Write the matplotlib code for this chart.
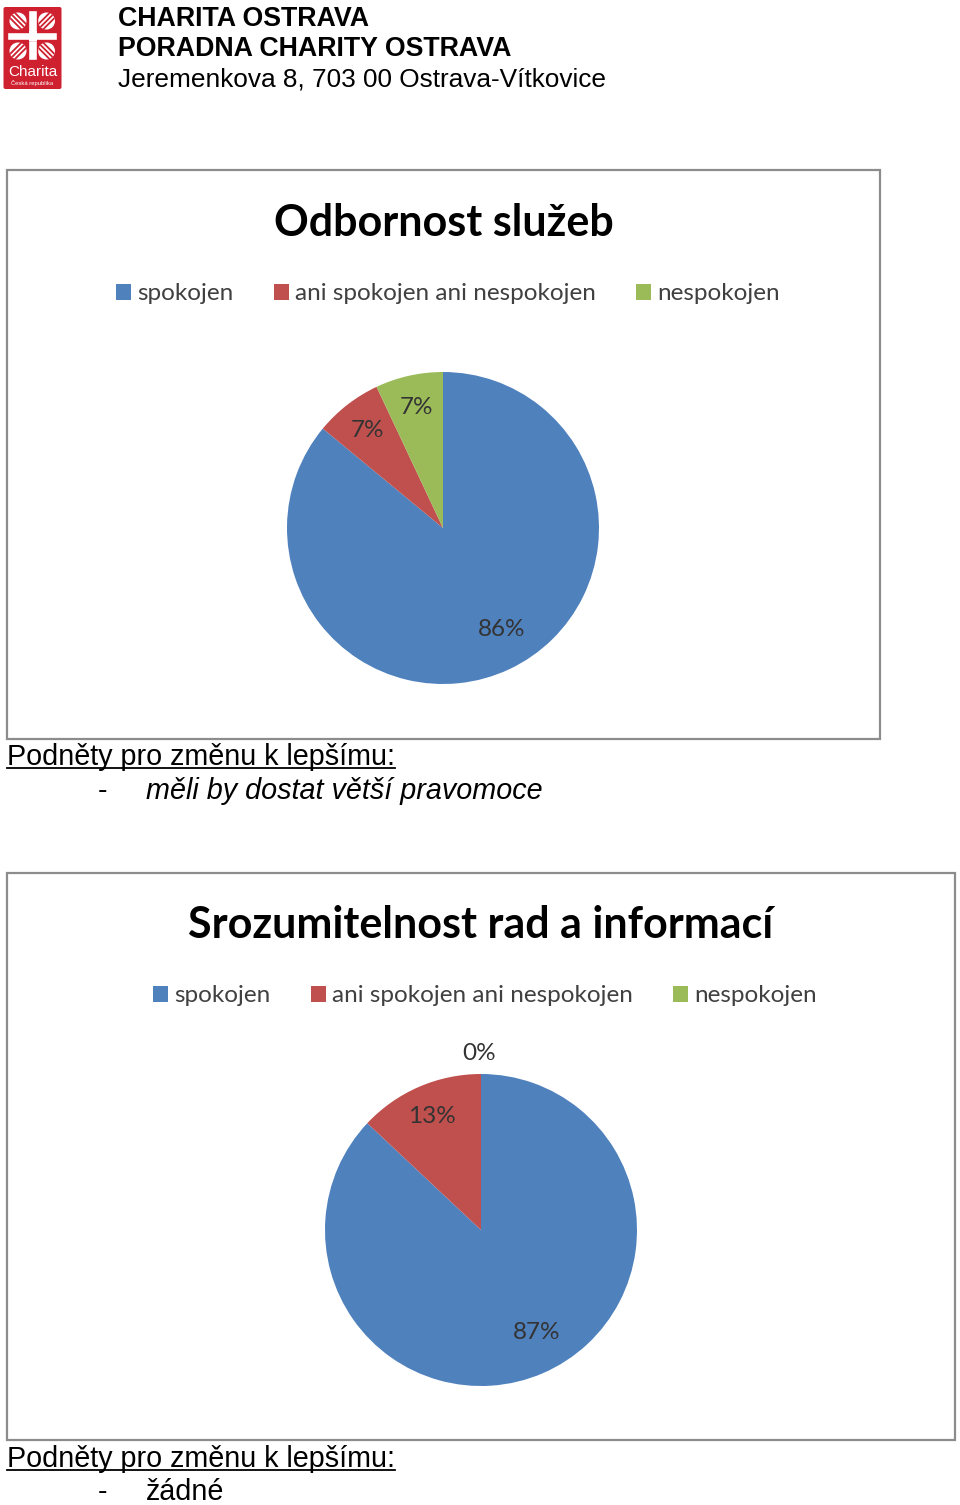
import numpy as np
import matplotlib
matplotlib.use("Agg")
import matplotlib.pyplot as plt
from matplotlib.patches import Rectangle, FancyBboxPatch, Circle
from matplotlib.lines import Line2D

W, H = 960, 1505

categories = ["spokojen", "ani spokojen ani nespokojen", "nespokojen"]
colors = ["#4F81BD", "#C0504D", "#9BBB59"]
title1 = "Odbornost služeb"
values1 = [86, 7, 7]
title2 = "Srozumitelnost rad a informací"
values2 = [87, 13, 0]
header_lines = ["CHARITA OSTRAVA", "PORADNA CHARITY OSTRAVA",
                "Jeremenkova 8, 703 00 Ostrava-Vítkovice"]
suggest_heading = "Podněty pro změnu k lepšímu:"
suggest1 = "měli by dostat větší pravomoce"
suggest2 = "žádné"

CHART_FONT = "Lato"
DOC_FONT = "Liberation Sans"

fig = plt.figure(figsize=(W / 100, H / 100), dpi=100)


def fx(x):
    return x / W


def fy(y):
    return 1 - y / H


# ---------- logo (drawn in a pixel-coordinate axes) ----------
lax = fig.add_axes([fx(0), fy(95), 70 / W, 95 / H])
lax.set_xlim(0, 70)
lax.set_ylim(95, 0)
lax.axis("off")
logo_red = "#CF2030"
lax.add_patch(FancyBboxPatch((3.5, 7), 58, 82, boxstyle="round,pad=0,rounding_size=2",
                             facecolor=logo_red, edgecolor="none"))
for (qx, qy, d) in [(18, 21, 1), (46.5, 21, -1), (18, 51, -1), (46.5, 51, 1)]:
    circ = Circle((qx, qy), 8.5, facecolor="white", edgecolor="none")
    lax.add_patch(circ)
    for k in (-5, 0, 5):
        ln = Line2D([qx - 12, qx + 12], [qy + k - 12 * d, qy + k + 12 * d], color=logo_red, lw=1.3)
        lax.add_line(ln)
        ln.set_clip_path(circ)
lax.add_patch(Rectangle((28, 10), 9, 50, facecolor="white", edgecolor=logo_red, lw=1.0))
lax.add_patch(Rectangle((7, 32), 50, 8, facecolor="white", edgecolor=logo_red, lw=1.0))
lax.add_patch(Rectangle((28.5, 31), 8, 10, facecolor="white", edgecolor="none"))
lax.text(32.5, 72, "Charita", color="white", fontsize=11, family="Liberation Sans",
         ha="center", va="center")
lax.text(32.5, 82.5, "Česká republika", color="white", fontsize=4.2, family="Liberation Sans",
         ha="center", va="center")

# ---------- header ----------
fig.text(fx(118), fy(19), header_lines[0], fontsize=19.3, fontweight="bold", family=DOC_FONT,
         ha="left", va="center")
fig.text(fx(118), fy(49), header_lines[1], fontsize=19.3, fontweight="bold", family=DOC_FONT,
         ha="left", va="center")
fig.text(fx(118), fy(79), header_lines[2], fontsize=18.9, family=DOC_FONT,
         ha="left", va="center")


def chart_box(x0, y0, x1, y1):
    fig.patches.append(Rectangle((fx(x0), fy(y1)), (x1 - x0) / W, (y1 - y0) / H,
                                 transform=fig.transFigure, facecolor="none",
                                 edgecolor="#8C8C8C", lw=1.6))


def draw_chart(box, title, title_y, legend_y, legend_cx, cx, cy, r, values):
    chart_box(*box)
    fig.text(fx((box[0] + box[2]) / 2 + 0), fy(title_y), title, fontsize=31, fontweight="bold",
             family=CHART_FONT, ha="center", va="center", color="black")
    ax = fig.add_axes([fx(cx - r), fy(cy + r), 2 * r / W, 2 * r / H])
    wedges, texts, autotexts = ax.pie(values, colors=colors, startangle=90, counterclock=False,
                                      autopct=lambda p: f"{p:.0f}%", pctdistance=0.79,
                                      wedgeprops=dict(linewidth=0),
                                      textprops=dict(fontsize=17.5, family=CHART_FONT, color="#333333"))
    ax.set_xlim(-1, 1)
    ax.set_ylim(-1, 1)
    ax.set_aspect("equal")
    ax.axis("off")
    total = float(sum(values))
    for w, v, t in zip(wedges, values, autotexts):
        if v == 0:
            t.set_position((-0.01, 1.13))
        elif v / total > 0.5:
            mid = np.deg2rad((w.theta1 + w.theta2) / 2 + 5)
            t.set_position((0.75 * np.cos(mid), 0.75 * np.sin(mid)))
    handles = [Rectangle((0, 0), 1, 1, facecolor=c, edgecolor="none") for c in colors]
    fig.legend(handles, categories, loc="center", bbox_to_anchor=(fx(legend_cx), fy(legend_y)),
               ncol=3, frameon=False, prop=dict(family=CHART_FONT, size=17.5),
               handlelength=0.62, handleheight=0.62, handletextpad=0.25, columnspacing=1.65,
               labelcolor="#404040")


draw_chart((7, 170, 880, 739), title1, 223, 294, 448, 443, 528, 156, values1)
draw_chart((7, 873, 955, 1440), title2, 925, 996, 485, 481, 1230, 156, values2)

# ---------- suggestions ----------
underlined = []
underlined.append(fig.text(fx(7), fy(757), suggest_heading, fontsize=20.7, family=DOC_FONT,
                           ha="left", va="center"))
fig.text(fx(98), fy(791), "-", fontsize=20.7, family=DOC_FONT, ha="left", va="center")
fig.text(fx(146), fy(791), suggest1, fontsize=20.7, family=DOC_FONT, style="italic",
         ha="left", va="center")
underlined.append(fig.text(fx(7), fy(1459), suggest_heading, fontsize=20.7, family=DOC_FONT,
                           ha="left", va="center"))
fig.text(fx(98), fy(1492), "-", fontsize=20.7, family=DOC_FONT, ha="left", va="center")
fig.text(fx(146), fy(1492), suggest2, fontsize=20.7, family=DOC_FONT, ha="left", va="center")

fig.canvas.draw()
renderer = fig.canvas.get_renderer()
for t in underlined:
    bb = t.get_window_extent(renderer)
    yline = bb.y0 + 3
    fig.lines.append(Line2D([bb.x0 / W, bb.x1 / W], [yline / H, yline / H],
                            transform=fig.transFigure, color="black", lw=1.3))

fig.savefig("out.png", dpi=100, facecolor="white")
